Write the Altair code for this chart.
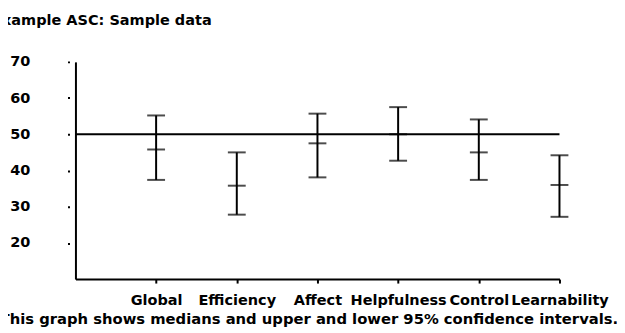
import json
import altair as alt
import pandas as pd

# ---- data ----
categories = ["Global", "Efficiency", "Affect", "Helpfulness", "Control", "Learnability"]
medians = [45.8, 35.8, 47.5, 50.0, 45.0, 36.0]
upper = [55.2, 45.0, 55.7, 57.5, 54.1, 44.2]
lower = [37.4, 27.8, 38.1, 42.7, 37.4, 27.2]
reference_value = [50]
y_ticks = [20, 30, 40, 50, 60, 70]
title_text = "Example ASC: Sample data"
caption_text = "This graph shows medians and upper and lower 95% confidence intervals."

df = pd.DataFrame({
    "idx": list(range(1, len(categories) + 1)),
    "category": categories,
    "median": medians,
    "upper": upper,
    "lower": lower,
})
ref_df = pd.DataFrame({"value": reference_value})

FONT = "DejaVu Sans"
FS = 14.6
label_expr = json.dumps(categories) + "[datum.value - 1]"

x_axis = alt.Axis(
    values=list(range(1, len(categories) + 1)),
    labelExpr=label_expr,
    labelFont=FONT, labelFontSize=FS, labelFontWeight="bold", labelColor="black",
    labelOverlap=False, labelBound=False, labelFlush=False, labelPadding=10,
    tickSize=4, tickWidth=2, tickColor="black",
    domainWidth=2, domainColor="black", grid=False,
    title=caption_text, titleFont=FONT, titleFontSize=14.9, titleFontWeight="bold",
    titleColor="black", titleAnchor="start", titleAlign="left", titleBaseline="alphabetic",
    titleX=-77, titleY=45,
)
y_axis = alt.Axis(
    values=y_ticks,
    labelFont=FONT, labelFontSize=FS, labelFontWeight="bold", labelColor="black",
    labelPadding=38, labelBound=False, labelFlush=False,
    tickSize=8, tickWidth=2, tickColor="black", tickDash=[0, 6, 2, 0],
    domainWidth=2, domainColor="black", grid=False, title=None,
)

x_enc = alt.X("idx:Q", scale=alt.Scale(domain=[0, len(categories)], nice=False, zero=False), axis=x_axis)
y_scale = alt.Scale(domain=[10, 70], nice=False, zero=False)

ref = alt.Chart(ref_df).mark_rule(color="black", strokeWidth=2).encode(
    y=alt.Y("value:Q", scale=y_scale, axis=y_axis)
)
stems = alt.Chart(df).mark_rule(color="black", strokeWidth=2).encode(
    x=x_enc,
    y=alt.Y("lower:Q", scale=y_scale, axis=y_axis),
    y2="upper:Q",
)

def caps(field):
    return alt.Chart(df).mark_tick(color="black", orient="horizontal", size=18, thickness=2).encode(
        x=x_enc,
        y=alt.Y(f"{field}:Q", scale=y_scale, axis=y_axis),
    )

chart = alt.layer(ref, stems, caps("upper"), caps("lower"), caps("median")).properties(
    width=488,
    height=219,
    autosize=alt.AutoSizeParams(type="none"),
    padding={"left": 68, "top": 53, "right": 58, "bottom": 50},
    title=alt.TitleParams(
        text=title_text, font=FONT, fontSize=FS, fontWeight="bold", color="black",
        anchor="start", frame="group", dx=-84, offset=27,
    ),
).configure(background="white").configure_view(stroke=None, strokeWidth=0)

chart.save("out.html", embed_options={"renderer": "svg", "actions": False})
